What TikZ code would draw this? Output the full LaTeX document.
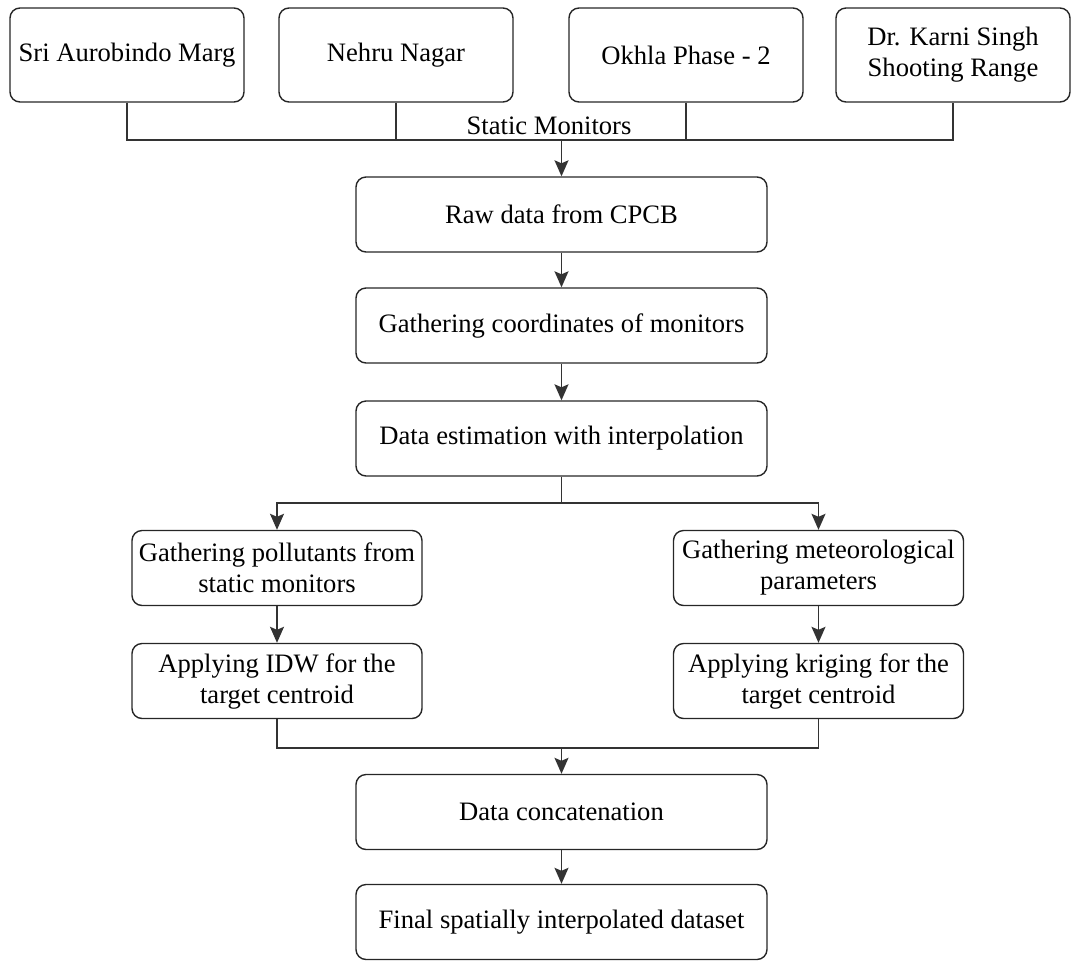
\documentclass[tikz,border=0pt]{standalone}
\usepackage{fontspec}
\setmainfont{Liberation Serif}
\usetikzlibrary{arrows.meta}

\tikzset{
  station/.style={draw=black!85, line width=0.7pt, rounded corners=5pt, align=center,
    minimum width=117pt, minimum height=47pt, inner sep=2pt},
  process/.style={draw=black!85, line width=0.7pt, rounded corners=5pt, align=center,
    minimum width=205.5pt, minimum height=37.5pt, inner sep=2pt},
  branch/.style={draw=black!85, line width=0.7pt, rounded corners=5pt, align=center,
    minimum width=145pt, minimum height=37.5pt, inner sep=2pt},
  link/.style={draw=black!80, line width=0.75pt},
  flow/.style={link, -{Stealth[length=8pt,width=7pt,inset=1.5pt]}}
}

\begin{document}
\begin{tikzpicture}[x=0.5pt, y=-0.5pt, font=\rmfamily\fontsize{13.3pt}{15.5pt}\selectfont]
\useasboundingbox (0,0) rectangle (1088,960);

% static monitors
\node[station] (sri) at (127,55) {Sri Aurobindo Marg};
\node[station] (nehru) at (396,55) {Nehru Nagar};
\node[station] (okhla) at (686,55) {Okhla Phase - 2};
\node[station] (karni) at (953,55) {Dr. Karni Singh\\Shooting Range};
\coordinate (bus) at (561.5,140);
\node (busLabel) at (549,126) {Static Monitors};

% main column
\node[process] (raw) at (561.5,214.5) {Raw data from CPCB};
\node[process] (coords) at (561.5,325.5) {Gathering coordinates of monitors};
\node[process] (estim) at (561.5,438.5) {Data estimation with interpolation};
\coordinate (split) at (561.5,503);

% two branches
\node[branch] (pollut) at (277,568) {Gathering pollutants from\\static monitors};
\node[branch] (meteo) at (818.5,568) {Gathering meteorological\\parameters};
\node[branch] (idw) at (277,681) {Applying IDW for the\\target centroid};
\node[branch] (krig) at (818.5,681) {Applying kriging for the\\target centroid};
\coordinate (merge) at (561.5,748);

\node[process] (concat) at (561.5,812) {Data concatenation};
\node[process] (final) at (561.5,922) {Final spatially interpolated dataset};

% connectors
\draw[link] (sri.south) |- (bus) -| (karni.south);
\draw[link] (nehru.south) -- (nehru.south |- bus);
\draw[link] (okhla.south) -- (okhla.south |- bus);
\draw[flow] (bus) -- (raw);
\draw[flow] (raw) -- (coords);
\draw[flow] (coords) -- (estim);
\draw[link] (estim) -- (split);
\draw[flow] (split) -| (pollut);
\draw[flow] (split) -| (meteo);
\draw[flow] (pollut) -- (idw);
\draw[flow] (meteo) -- (krig);
\draw[link] (idw.south) |- (merge) -| (krig.south);
\draw[flow] (merge) -- (concat);
\draw[flow] (concat) -- (final);
\end{tikzpicture}
\end{document}
